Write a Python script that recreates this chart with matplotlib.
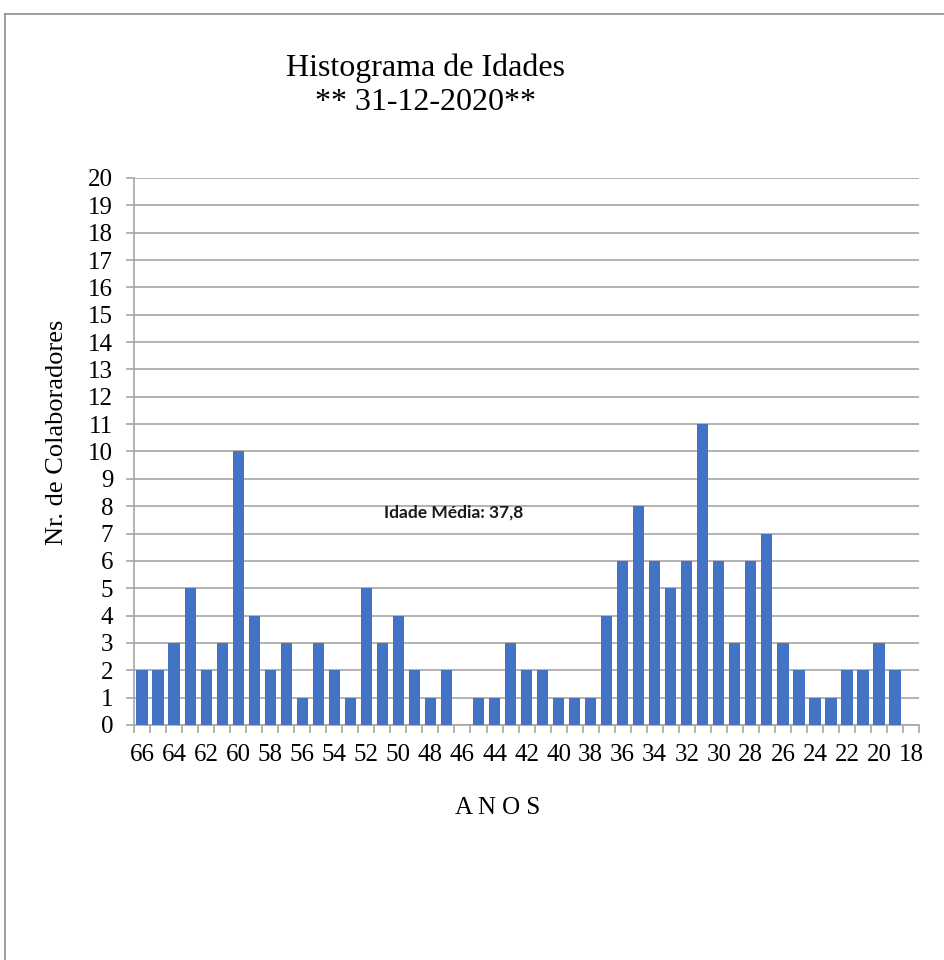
import matplotlib
matplotlib.use("Agg")
import matplotlib.pyplot as plt
from matplotlib.lines import Line2D

# Dados: idade (anos) e nr. de colaboradores
idades = list(range(66, 17, -1))
colaboradores = [2, 2, 3, 5, 2, 3, 10, 4, 2, 3,
                 1, 3, 2, 1, 5, 3, 4, 2, 1, 2,
                 0, 1, 1, 3, 2, 2, 1, 1, 1, 4,
                 6, 8, 6, 5, 6, 11, 6, 3, 6, 7,
                 3, 2, 1, 1, 2, 2, 3, 2, 0]
titulo = "Histograma de Idades"
subtitulo = "** 31-12-2020**"
nota = "Idade Média: 37,8"

serif = "Liberation Serif"
cor_barra = "#4472C4"
cor_grelha = "#a6a6a6"

fig = plt.figure(figsize=(9.44, 9.6), dpi=100)
ax = fig.add_axes([0.142, 0.2448, 0.8316, 0.5698])

pos = list(range(len(idades)))
ax.bar(pos, colaboradores, width=0.7, color=cor_barra, zorder=3)

ax.set_xlim(-0.5, len(idades) - 0.5)
ax.set_ylim(0, 20)
ax.set_yticks(range(0, 21))
ax.yaxis.grid(True, color=cor_grelha, linewidth=1.2, zorder=0)

# rótulos de 2 em 2 anos, marcas entre categorias
ax.set_xticks(pos[::2])
ax.set_xticklabels([str(a) for a in idades[::2]])
ax.set_xticks([p - 0.5 for p in pos] + [pos[-1] + 0.5], minor=True)
ax.tick_params(axis="x", which="major", length=0, pad=14)
ax.tick_params(axis="x", which="minor", length=6, width=1.2, color=cor_grelha)
ax.tick_params(axis="y", length=6, width=1.2, color=cor_grelha, pad=9)

for lab in ax.get_xticklabels() + ax.get_yticklabels():
    lab.set_fontfamily(serif)
    lab.set_fontsize(18)

for s in ["top", "right"]:
    ax.spines[s].set_visible(False)
for s in ["left", "bottom"]:
    ax.spines[s].set_color(cor_grelha)
    ax.spines[s].set_linewidth(1.2)

ax.text(0.318, 0.388, nota, transform=ax.transAxes, ha="left", va="center",
        fontfamily="Lato", fontweight="bold", fontsize=12.5, color="#1a1a1a")

fig.text(0.451, 1 - 68 / 960, titulo, ha="center", va="center",
         fontfamily=serif, fontsize=23)
fig.text(0.451, 1 - 103 / 960, subtitulo, ha="center", va="center",
         fontfamily=serif, fontsize=23)
fig.text(0.527, 1 - 808 / 960, "A N O S", ha="center", va="center",
         fontfamily=serif, fontsize=18)
fig.text(0.060, 1 - 432 / 960, "Nr. de Colaboradores", ha="center", va="center",
         rotation=90, fontfamily=serif, fontsize=19)

# moldura da área do gráfico
x0, y0 = 5 / 944, 1 - 13.5 / 960
fig.add_artist(Line2D([x0, 1], [y0, y0], color="#8c8c8c", linewidth=1.2))
fig.add_artist(Line2D([x0, x0], [0, y0], color="#8c8c8c", linewidth=1.2))

fig.savefig("out.png", dpi=100)
